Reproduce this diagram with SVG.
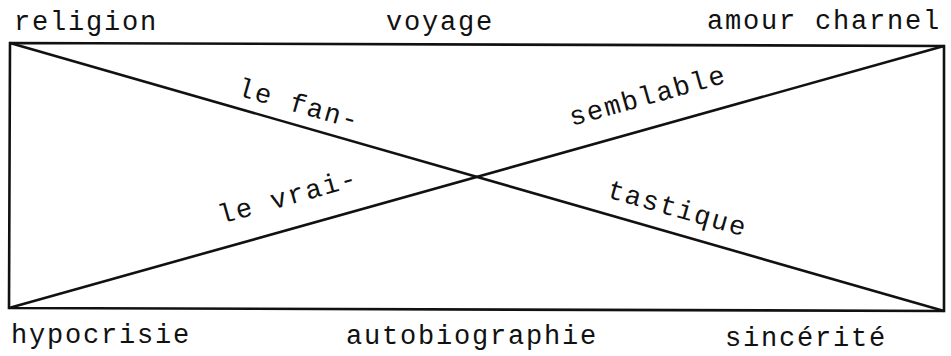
<svg xmlns="http://www.w3.org/2000/svg" width="951" height="356" viewBox="0 0 951 356">
  <style>
    .t { font-family: "Liberation Mono", "Courier New", monospace; font-size: 27px; letter-spacing: 1.8px; fill: #111; }
    .ln { stroke: #111; stroke-width: 2.6; fill: none; stroke-linejoin: miter; }
  </style>
  <rect width="951" height="356" fill="#fff"/>
  <g id="connectors">
    <polygon class="ln" points="10,43 944,46 944,311 9,308"/>
    <line class="ln" x1="10" y1="43" x2="944" y2="311"/>
    <line class="ln" x1="9" y1="308" x2="944" y2="46"/>
  </g>
  <g id="corner-labels">
    <text id="religion" class="t" x="14" y="30">religion</text>
    <text id="voyage" class="t" x="386" y="30">voyage</text>
    <text id="amour-charnel" class="t" x="707" y="29">amour charnel</text>
    <text id="hypocrisie" class="t" x="11" y="343">hypocrisie</text>
    <text id="autobiographie" class="t" x="346" y="344">autobiographie</text>
    <text id="sincerite" class="t" x="725" y="346">sincérité</text>
  </g>
  <g id="diagonal-labels">
    <text id="le-fan" class="t" transform="translate(236,95) rotate(16)">le fan-</text>
    <text id="tastique" class="t" transform="translate(606,197) rotate(16)">tastique</text>
    <text id="le-vrai" class="t" transform="translate(221,224) rotate(-15.7)">le vrai-</text>
    <text id="semblable" class="t" transform="translate(572,126) rotate(-15.7)">semblable</text>
  </g>
</svg>
